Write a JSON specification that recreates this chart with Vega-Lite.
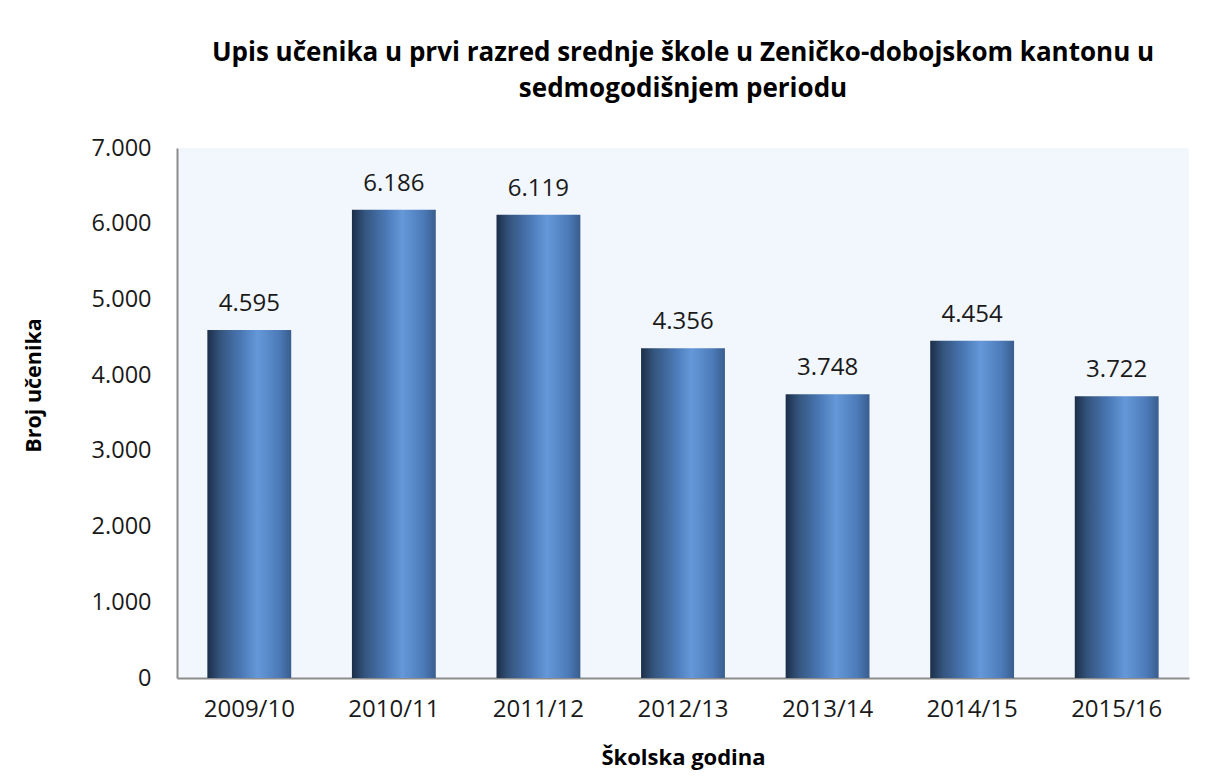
{
  "$schema": "https://vega.github.io/schema/vega-lite/v6.json",
  "autosize": {"type": "none"},
  "width": 1012,
  "height": 530,
  "padding": {"left": 177, "top": 148, "right": 41, "bottom": 98},
  "background": "white",
  "title": {
    "text": ["Upis učenika u prvi razred srednje škole u Zeničko-dobojskom kantonu u", "sedmogodišnjem periodu"],
    "font": "Open Sans",
    "fontSize": 26,
    "fontWeight": "bold",
    "color": "#000000",
    "anchor": "middle",
    "lineHeight": 36,
    "offset": 34
  },
  "data": {
    "values": [
      {"godina": "2009/10", "broj": 4595},
      {"godina": "2010/11", "broj": 6186},
      {"godina": "2011/12", "broj": 6119},
      {"godina": "2012/13", "broj": 4356},
      {"godina": "2013/14", "broj": 3748},
      {"godina": "2014/15", "broj": 4454},
      {"godina": "2015/16", "broj": 3722}
    ]
  },
  "encoding": {
    "x": {
      "field": "godina",
      "type": "nominal",
      "sort": null,
      "scale": {"paddingInner": 0.42, "paddingOuter": 0.21},
      "axis": {
        "title": "Školska godina",
        "titleFont": "Open Sans",
        "titleFontSize": 22,
        "titleFontWeight": "bold",
        "titleColor": "#000000",
        "titlePadding": 26,
        "labelAngle": 0,
        "labelFont": "Open Sans",
        "labelFontSize": 24,
        "labelColor": "#1a1a1a",
        "labelPadding": 19,
        "ticks": false,
        "domainColor": "#8c8c8c",
        "domainWidth": 2
      }
    },
    "y": {
      "field": "broj",
      "type": "quantitative",
      "scale": {"domain": [0, 7000], "nice": false},
      "axis": {
        "title": "Broj učenika",
        "titleFont": "Open Sans",
        "titleFontSize": 21.5,
        "titleFontWeight": "bold",
        "titleColor": "#000000",
        "titleX": -132,
        "titleY": 237,
        "values": [0, 1000, 2000, 3000, 4000, 5000, 6000, 7000],
        "labelExpr": "replace(format(datum.value, ','), ',', '.')",
        "labelFont": "Open Sans",
        "labelFontSize": 23.5,
        "labelColor": "#1a1a1a",
        "labelPadding": 26,
        "ticks": false,
        "grid": false,
        "domainColor": "#8c8c8c",
        "domainWidth": 2
      }
    }
  },
  "layer": [
    {
      "mark": {
        "type": "bar",
        "color": {
          "gradient": "linear",
          "x1": 0, "x2": 1, "y1": 0, "y2": 0,
          "stops": [
            {"offset": 0, "color": "#1c2e48"},
            {"offset": 0.15, "color": "#34547d"},
            {"offset": 0.4, "color": "#4a78b5"},
            {"offset": 0.6, "color": "#6598d9"},
            {"offset": 0.85, "color": "#4d7bb9"},
            {"offset": 1, "color": "#395d8e"}
          ]
        }
      }
    },
    {
      "mark": {
        "type": "text",
        "baseline": "bottom",
        "dy": -14,
        "font": "Open Sans",
        "fontSize": 24,
        "color": "#1a1a1a"
      },
      "encoding": {
        "text": {"field": "broj", "type": "quantitative", "format": ",d"}
      }
    }
  ],
  "config": {
    "view": {"fill": "#f2f6fd", "stroke": null},
    "locale": {"number": {"decimal": ",", "thousands": ".", "grouping": [3], "currency": ["", " KM"]}}
  }
}
